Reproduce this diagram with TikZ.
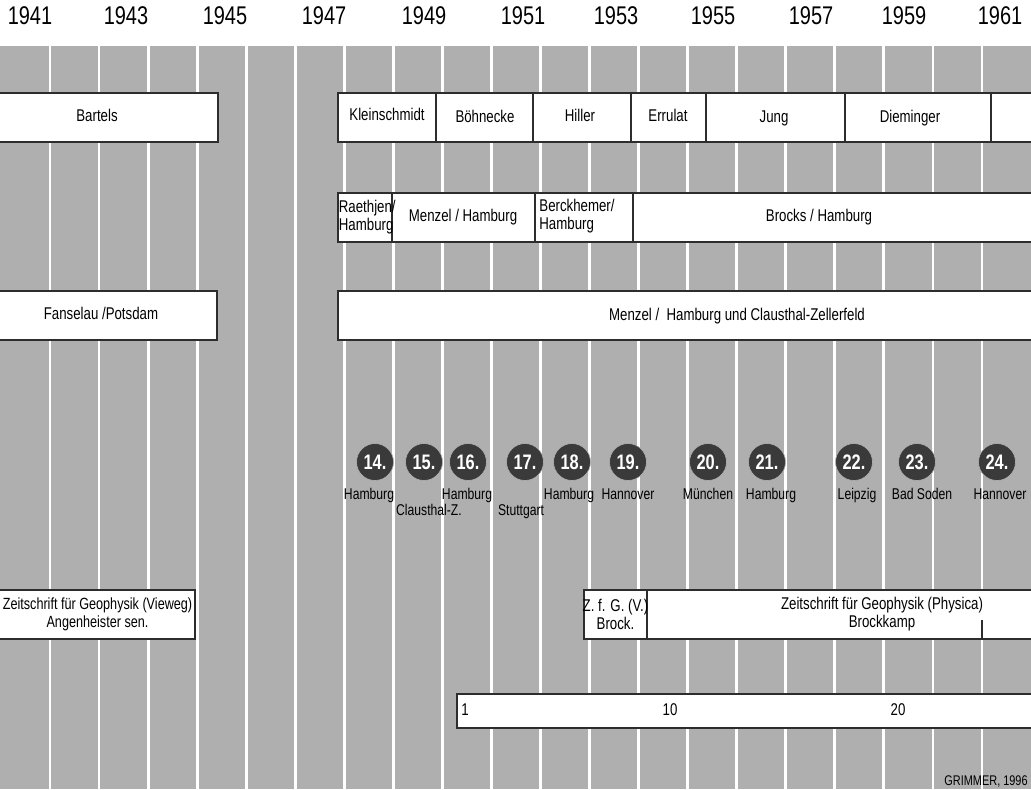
\documentclass[tikz,border=0pt]{standalone}
\usepackage{fontspec}
\setmainfont{Liberation Sans}[FakeStretch=0.78]
\usepackage{xcolor}
\usetikzlibrary{positioning}
\definecolor{bgray}{RGB}{175,175,175}
\definecolor{dgray}{RGB}{58,58,58}
\definecolor{edge}{RGB}{45,45,45}

\begin{document}
\begin{tikzpicture}[
  x=0.5pt, y=-0.5pt,
  box/.style={draw=edge, line width=0.7pt, fill=white},
  txt/.style={font=\fontsize{8.5}{9}\selectfont, inner sep=0pt, align=center},
  one/.style={txt, text height=6.2pt, text depth=1.8pt},
  yr/.style={font=\fontsize{12.8}{14}\selectfont, inner sep=0pt},
  dot/.style={circle, fill=dgray, draw=gray!60, line width=0.3pt,
              minimum size=18.5pt, inner sep=0pt,
              text=white, font=\bfseries\fontsize{10.5}{12}\selectfont},
  city/.style={font=\fontsize{7.8}{9}\selectfont, inner sep=0pt,
               text height=6pt, text depth=1.7pt},
  gap/.style={white, line width=1.4pt}
]
\clip (0,0) rectangle (1031,789);
\fill[white] (0,0) rectangle (1031,789);
\fill[bgray] (0,46) rectangle (1031,789);
\foreach \k in {0,...,19}
  \draw[gap] ({50+49.05*\k},46) -- ({50+49.05*\k},789);

\foreach \yr/\x in {1941/30,1943/126,1945/225,1947/324,1949/424,1951/523,
                    1953/616,1955/713,1957/811,1959/904,1961/1000}
  \node[yr] (y\yr) at (\x,16) {\yr};

% Rektoren
\draw[box] (-5,93) rectangle (218,142);
\foreach \a/\b in {338/436,436/533,533/631,631/706,706/845,845/991,991/1040}
  \draw[box] (\a,93) rectangle (\b,142);
\node[one] (bartels) at (97,117.5) {Bartels};
\node[one] (klein) at (387,116.5) {Kleinschmidt};
\node[one] (boehn) at (485,118.5) {Böhnecke};
\node[one] (hiller) at (580,117.5) {Hiller};
\node[one] (errulat) at (668,117.5) {Errulat};
\node[one] (jung) at (774,118) {Jung};
\node[one] (diem) at (910,118) {Dieminger};

% Vorsitz
\foreach \a/\b in {338/392,392/535,535/633,633/1040}
  \draw[box] (\a,193) rectangle (\b,242);
\node[txt, anchor=west, align=left] (raethjen) at (338.5,217.5) {Raethjen/\\Hamburg};
\node[one] (menzel) at (463,217.5) {Menzel / Hamburg};
\node[txt, anchor=west, align=left] (berck) at (539,216) {Berckhemer/\\Hamburg};
\node[one] (brocks) at (819,217.5) {Brocks / Hamburg};

% Geschaeftsfuehrung
\draw[box] (-5,291) rectangle (217,340);
\draw[box] (338,291) rectangle (1040,340);
\node[one] (fanselau) at (101,315.5) {Fanselau /Potsdam};
\node[one] (menzelcz) at (737,316) {Menzel /\ \ Hamburg und Clausthal-Zellerfeld};

% Tagungen
\foreach \n/\x in {14/375,15/424,16/468,17/525,18/572,19/628,20/708,21/767,
                   22/854,23/917,24/997}
  \node[dot] (c\n) at (\x,462) {\n.};
\foreach \n/\x/\y/\ort in {14/369/495/Hamburg,15/429/511/Clausthal-Z.,
    16/467/495/Hamburg,17/521/511/Stuttgart,18/569/495/Hamburg,
    19/628/495/Hannover,20/708/495/München,21/771/495/Hamburg,
    22/857/495/Leipzig,23/922/495/Bad Soden,24/1000/495/Hannover}
  \node[city] (l\n) at (\x,\y) {\ort};

% Zeitschrift
\draw[box] (-5,590) rectangle (195,639);
\draw[box] (584,590) rectangle (647,639);
\draw[box] (647,590) rectangle (1040,639);
\node[txt, font=\fontsize{8.1}{9}\selectfont] (vieweg) at (97.5,614.5) {Zeitschrift für Geophysik (Vieweg)\\Angenheister sen.};
\node[txt] (zfg) at (615.5,614.5) {Z. f. G. (V.)\\Brock.};
\node[txt] (physica) at (882,614.5) {Zeitschrift für Geophysik (Physica)\\Brockkamp};
\coordinate (tick) at (982,620);
\draw[edge, line width=0.6pt] (tick) -- (tick |- 0,639);

% Baende
\draw[box] (457,694) rectangle (1040,728);
\node[one, anchor=west] (v1) at (461,711) {1};
\node[one] (v10) at (670,711) {10};
\node[one] (v20) at (898,711) {20};

\node[city, anchor=east, font=\fontsize{7}{8}\selectfont] (grimmer) at (1028,781) {GRIMMER, 1996};
\end{tikzpicture}
\end{document}
